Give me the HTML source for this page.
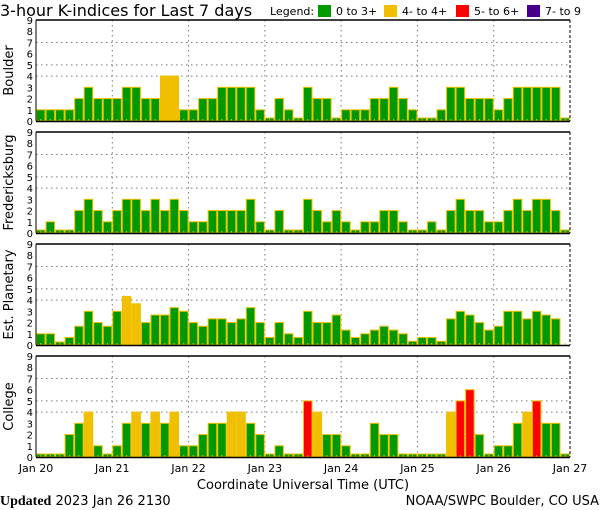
<!DOCTYPE html>
<html><head><meta charset="utf-8"><style>
body{margin:0;background:#fff}
svg{display:block;font-family:"DejaVu Sans","Liberation Sans",sans-serif}
</style></head><body>
<svg id="chart" width="600" height="510" viewBox="0 0 600 510">
<text x="0" y="16" font-size="16">3-hour K-indices for Last 7 days</text>
<g font-size="11">
<text x="270" y="15">Legend:</text>
<rect x="318" y="5" width="13" height="12" fill="#009900"/><text x="336" y="15">0 to 3+</text>
<rect x="384" y="5" width="13" height="12" fill="#f0c000"/><text x="402" y="15">4- to 4+</text>
<rect x="456" y="5" width="13" height="12" fill="#ff0000"/><text x="474" y="15">5- to 6+</text>
<rect x="527" y="5" width="13" height="12" fill="#440088"/><text x="545" y="15">7- to 9</text>
</g>
<g id="panels"></g>
<g id="xlabels" font-size="11"></g>
<text x="303" y="489" font-size="13" text-anchor="middle">Coordinate Universal Time (UTC)</text>
<text x="0" y="505" font-size="13"><tspan font-family="Liberation Serif,serif" font-weight="bold" font-size="14">Updated</tspan> 2023 Jan 26 2130</text>
<text x="599" y="505" font-size="13" text-anchor="end">NOAA/SWPC Boulder, CO USA</text>
</svg>
<script>
const days = ["Jan 20","Jan 21","Jan 22","Jan 23","Jan 24","Jan 25","Jan 26","Jan 27"];
const yTicks = [0,1,2,3,4,5,6,7,8,9];
const stations = ["Boulder","Fredericksburg","Est. Planetary","College"];
const boulder = [1,1,1,1,2,3,2,2,2,3,3,2,2,4,4,1,1,2,2,3,3,3,3,1,0,2,1,0,3,2,2,0,1,1,1,2,2,3,2,1,0,0,1,3,3,2,2,2,1,2,3,3,3,3,3,0];
const fredericksburg = [0,1,0,0,2,3,2,1,2,3,3,2,3,2,3,2,1,1,2,2,2,2,3,1,0,2,0,0,3,2,1,2,1,0,1,1,2,2,1,0,0,1,0,2,3,2,2,1,1,2,3,2,3,3,2,0];
const planetary = [1,1,0.15,0.67,1.67,3,2,1.67,3,4.33,3.67,2,2.67,2.67,3.33,3,2,1.67,2.33,2.33,2,2.33,3.33,2,0.67,2,1,0.67,3,2,2,2.67,1.33,0.67,1,1.33,1.67,1.33,1,0.33,0.67,0.67,0.33,2.33,3,2.67,2,1.33,1.67,3,3,2.33,3,2.67,2.33,null];
const college = [0,0,0,2,3,4,1,0,1,3,4,3,4,3,4,1,1,2,3,3,4,4,3,2,0,1,0,0,5,4,2,2,1,0,0,3,2,2,0,0,0,0,0,4,5,6,2,0,1,1,3,4,5,3,3,0];
const series = [boulder,fredericksburg,planetary,college];
const panelTops = [20,132,244,356];
const panelH = 101;
const X0 = 36, X1 = 570;
const NS = "http://www.w3.org/2000/svg";
const nBars = days.length - 1;
function xScale(i){ return X0 + (X1 - X0) * i / (nBars * 8); }
function yScale(p, v){ return panelTops[p] + panelH - v * panelH / 9; }
function color(v){ return v >= 6.67 ? "#440088" : v >= 4.67 ? "#ff0000" : v >= 3.67 ? "#f0c000" : "#009900"; }
function mk(tag, attrs, parent){ const e = document.createElementNS(NS, tag); for (const k in attrs) e.setAttribute(k, attrs[k]); parent.appendChild(e); return e; }
const panels = document.getElementById("panels");
series.forEach((vals, p) => {
  const g = mk("g", {}, panels);
  
  
  const top = panelTops[p], bot = top + panelH;
  [4,5,7].forEach(v => {
    const l = mk("line", {x1:X0, x2:X1, y1:yScale(p,v), y2:yScale(p,v), stroke:"#777", "stroke-dasharray":"1.5,3.5"}, g);
    
    
  });
  for (let d = 1; d < nBars; d++) {
    const x = xScale(d * 8);
    const l = mk("line", {x1:x, x2:x, y1:top, y2:bot, stroke:"#777", "stroke-dasharray":"1.5,3.5"}, g);
    
    
  }
  vals.forEach((v, i) => {
    if (v === null) return;
    const x = xScale(i), w = xScale(i + 1) - x;
    const y = Math.min(yScale(p, v), bot - 3);
    const r = mk("rect", {x:x + 0.5, y:y, width:w - 1, height:bot - y, fill:color(v), stroke:"#f0c000", "stroke-width":1}, g);
    
    
  });
  for (let i = 0; i < vals.length; i++) {
    const cx = (xScale(i) + xScale(i + 1)) / 2;
    const t = mk("line", {x1:cx, x2:cx, y1:bot - 2, y2:bot, stroke:"#f0c000"}, g);
    
    
  }
  mk("line", {x1:X0, x2:X1, y1:top, y2:top, stroke:"#000", "stroke-width":1.5}, g);
  mk("line", {x1:X0, x2:X1, y1:bot + 0.5, y2:bot + 0.5, stroke:"#000", "stroke-width":1.5}, g);
  mk("line", {x1:X0, x2:X0, y1:top, y2:bot, stroke:"#000", "stroke-width":1}, g);
  mk("line", {x1:X1, x2:X1, y1:top, y2:bot, stroke:"#000", "stroke-width":1, "stroke-dasharray":"3,2"}, g);
  yTicks.forEach(v => {
    const t = mk("text", {x:33, y:yScale(p, v) + 4, "font-size":10, "text-anchor":"end"}, g);
    t.textContent = v;
    
    
  });
  const yl = mk("text", {x:0, y:0, "font-size":13, "text-anchor":"middle", transform:"translate(13," + (top + panelH / 2) + ") rotate(-90)"}, g);
  yl.textContent = stations[p];
  
  
});
const xl = document.getElementById("xlabels");
days.forEach((d, k) => {
  const t = mk("text", {x:xScale(k * 8), y:472, "text-anchor":"middle"}, xl);
  t.textContent = d;
  
  
});
</script>
</body></html>
